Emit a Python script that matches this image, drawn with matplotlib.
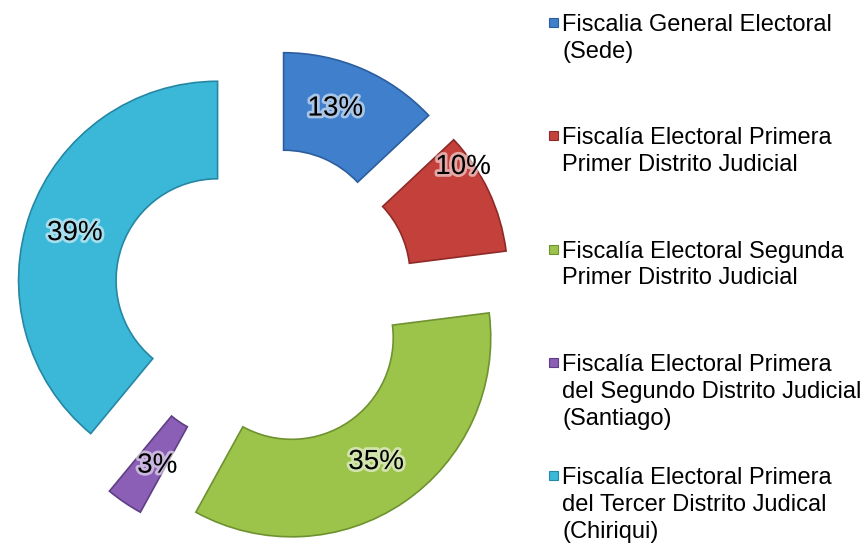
import numpy as np
import matplotlib
matplotlib.use('Agg')
import matplotlib.pyplot as plt
import matplotlib.patheffects as pe

plt.rcParams['font.family'] = ['Liberation Sans', 'DejaVu Sans']

# data
labels = [
    'Fiscalia General Electoral\n(Sede)',
    'Fiscalía Electoral Primera\nPrimer Distrito Judicial',
    'Fiscalía Electoral Segunda\nPrimer Distrito Judicial',
    'Fiscalía Electoral Primera\ndel Segundo Distrito Judicial\n(Santiago)',
    'Fiscalía Electoral Primera\ndel Tercer Distrito Judical\n(Chiriqui)',
]
shares = [13, 10, 35, 3, 39]
colors = ['#3F7FCB', '#C4403B', '#9CC34A', '#8A5FB5', '#3BB8D8']
edges = ['#2C5E9E', '#8E2A27', '#6F9230', '#5F3F85', '#2587A3']

# label placement tweaks (radial fraction, angle shift in degrees)
lab_dist = [0.765, 0.95, 0.755, 0.755, 0.755]
lab_shift = [3.5, 10, 0, 2.5, 1.5]

W, H = 867, 549
fig = plt.figure(figsize=(W / 100, H / 100), dpi=100)

# pie axes: center at (264, 297) px from top-left, outer radius 199 px
R = 199.0
cx, cy = 264, 297
ax = fig.add_axes([0, 0, 532 / W, 1])
wedges, _ = ax.pie(shares, colors=colors, startangle=90, counterclock=False,
                   explode=[0.248] * len(shares), radius=1,
                   wedgeprops=dict(width=0.49, linewidth=1.2))
for w, ec in zip(wedges, edges):
    w.set_edgecolor(ec)

ax.set_xlim(-cx / R, (532 - cx) / R)
ax.set_ylim(-(H - cy) / R, cy / R)
ax.set_aspect('auto')
ax.axis('off')

for w, v, d, s in zip(wedges, shares, lab_dist, lab_shift):
    th = np.radians((w.theta1 + w.theta2) / 2 + s)
    x0, y0 = w.center
    ax.text(x0 + d * np.cos(th), y0 + d * np.sin(th), f'{v}%',
            ha='center', va='center', fontsize=20, color='black',
            path_effects=[pe.withStroke(linewidth=4, foreground='white', alpha=0.55)])

# legend drawn by hand (entries are evenly spaced, different line counts)
first_base = 31
step = 113.3
line_h = 26.8
for i, (lab, col, ec) in enumerate(zip(labels, colors, edges)):
    base = first_base + i * step
    for k, line in enumerate(lab.split('\n')):
        fig.text(562 / W, 1 - (base + k * line_h) / H, line,
                 ha='left', va='baseline', fontsize=17, color='black')
    sq = 9
    fig.patches.append(plt.Rectangle((549 / W, 1 - (base - 4) / H), sq / W, sq / H,
                                     transform=fig.transFigure, facecolor=col,
                                     edgecolor=ec, linewidth=0.8))

fig.savefig('out.png', dpi=100)
